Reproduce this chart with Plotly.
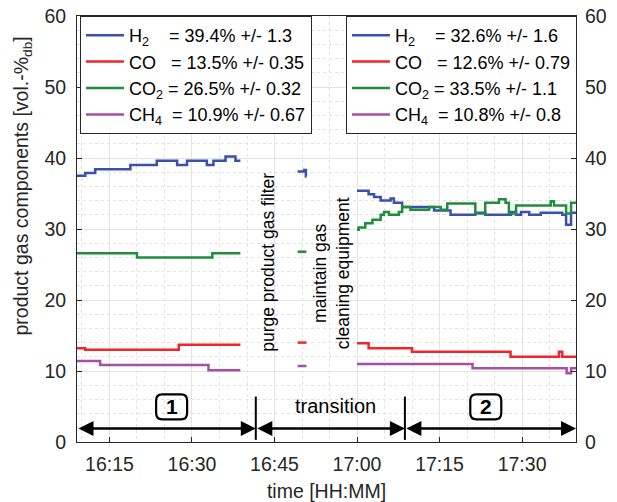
import plotly.graph_objects as go
import datetime as dt

BASE = dt.datetime(2020, 1, 1, 16, 0)

def T(m):
    return (BASE + dt.timedelta(minutes=m)).strftime("%Y-%m-%d %H:%M:%S")

# ---- data (minutes after 16:00, value in vol.-%) ----
h2_seg1_t = [9.1, 10.6, 12.4, 18.8, 23.6, 27.3, 29.1, 32.7, 33.9, 36.1, 37.9, 38.8]
h2_seg1_v = [37.5, 37.9, 38.4, 39.0, 39.6, 39.0, 39.6, 39.0, 39.6, 40.2, 39.6, 39.6]
co_seg1_t = [9.1, 10.6, 27.6, 38.8]
co_seg1_v = [13.2, 13.0, 13.7, 13.7]
co2_seg1_t = [9.1, 20.0, 33.7, 38.8]
co2_seg1_v = [26.6, 26.0, 26.6, 26.6]
ch4_seg1_t = [9.1, 13.3, 33.0, 38.8]
ch4_seg1_v = [11.4, 10.85, 10.1, 10.1]

h2_tr_t = [49.2, 50.4, 50.7, 50.8]
h2_tr_v = [38.1, 38.3, 37.4, 37.4]
co_tr_t = [49.2, 50.8]
co_tr_v = [14.0, 14.0]
co2_tr_t = [49.2, 50.8]
co2_tr_v = [26.8, 26.8]
ch4_tr_t = [49.2, 50.8]
ch4_tr_v = [10.7, 10.7]

h2_seg2_t = [60.0, 62.1, 63.1, 64.3, 66.1, 66.7, 68.2, 74.0, 77.0, 81.5, 83.3, 88.0, 88.9,
             89.8, 91.3, 93.4, 97.3, 98.0, 98.9, 99.8]
h2_seg2_v = [35.4, 34.9, 34.5, 34.0, 34.3, 33.7, 33.1, 32.6, 32.0, 32.3, 32.0, 32.4, 32.0,
             32.4, 32.0, 32.3, 32.0, 30.6, 32.3, 32.3]
co_seg2_t = [60.0, 62.1, 70.0, 87.9, 96.7, 97.3, 99.8]
co_seg2_v = [13.9, 13.2, 12.7, 12.0, 12.7, 12.0, 12.0]
co2_seg2_t = [60.0, 60.3, 61.5, 62.8, 64.3, 64.9, 65.8, 67.6, 68.2, 69.7, 73.1, 75.2, 76.4,
              81.5, 83.3, 85.8, 87.0, 87.6, 88.9, 95.2, 95.8, 98.0, 98.9, 99.8]
co2_seg2_v = [29.9, 30.2, 30.8, 31.3, 32.0, 32.4, 32.0, 32.4, 33.1, 32.7, 33.1, 32.7, 33.6,
              32.2, 33.7, 34.2, 33.7, 32.2, 33.3, 33.9, 33.3, 32.2, 33.7, 33.7]
ch4_seg2_t = [60.0, 81.0, 98.1, 98.9, 99.8]
ch4_seg2_v = [11.0, 10.4, 9.7, 10.4, 10.4]

legend1_labels = ["H<sub>2</sub>\u00a0\u00a0\u00a0 = 39.4% +/- 1.3",
                  "CO\u00a0\u00a0 = 13.5% +/- 0.35",
                  "CO<sub>2</sub> = 26.5% +/- 0.32",
                  "CH<sub>4</sub>\u00a0 = 10.9% +/- 0.67"]
legend2_labels = ["H<sub>2</sub>\u00a0\u00a0\u00a0 = 32.6% +/- 1.6",
                  "CO\u00a0\u00a0 = 12.6% +/- 0.79",
                  "CO<sub>2</sub> = 33.5% +/- 1.1",
                  "CH<sub>4</sub>\u00a0 = 10.8% +/- 0.8"]

phase_bounds = [9.1, 41.6, 68.7, 99.8]   # phase separators (minutes after 16:00)
phase_labels = ["1", "transition", "2"]

x_range = [9.1, 99.8]
y_ticks = [0, 10, 20, 30, 40, 50, 60]

colors = {"H2": "#3a4fae", "CO": "#f0242a", "CO2": "#1f8d3b", "CH4": "#a54fa8"}
TXT = "#262626"
FS_AX = 19.5
FS_LEG = 18

fig = go.Figure()

series = [
    ("H2", [(h2_seg1_t, h2_seg1_v), (h2_tr_t, h2_tr_v), (h2_seg2_t, h2_seg2_v)]),
    ("CO", [(co_seg1_t, co_seg1_v), (co_tr_t, co_tr_v), (co_seg2_t, co_seg2_v)]),
    ("CO2", [(co2_seg1_t, co2_seg1_v), (co2_tr_t, co2_tr_v), (co2_seg2_t, co2_seg2_v)]),
    ("CH4", [(ch4_seg1_t, ch4_seg1_v), (ch4_tr_t, ch4_tr_v), (ch4_seg2_t, ch4_seg2_v)]),
]

for i, (key, segs) in enumerate(series):
    for j, (ts, vs) in enumerate(segs):
        if j == 0:
            kw = dict(name=legend1_labels[i], legend="legend", showlegend=True)
        elif j == 2:
            kw = dict(name=legend2_labels[i], legend="legend2", showlegend=True)
        else:
            kw = dict(name=key, showlegend=False)
        fig.add_trace(go.Scatter(
            x=[T(t) for t in ts], y=vs, mode="lines",
            line=dict(color=colors[key], width=2.5, shape="hv"),
            hoverinfo="skip", **kw))

# right-hand axis labels
fig.add_trace(go.Scatter(x=[T(x_range[0])], y=[0], yaxis="y2", mode="lines",
                         showlegend=False, hoverinfo="skip", line=dict(width=0)))

# phase separators and arrows
arrow_y = 1.9
for b in phase_bounds[1:3]:
    fig.add_shape(type="line", x0=T(b), x1=T(b), y0=0.3, y1=6.4, xref="x", yref="y",
                  line=dict(color="black", width=2))
for k in range(3):
    fig.add_annotation(x=T(phase_bounds[k + 1]), y=arrow_y, ax=T(phase_bounds[k]), ay=arrow_y,
                       xref="x", yref="y", axref="x", ayref="y", text="",
                       showarrow=True, arrowhead=2, startarrowhead=2, arrowside="end+start",
                       arrowwidth=2.5, arrowsize=1.2, startarrowsize=1.2,
                       arrowcolor="black", standoff=0, startstandoff=0)

label_x = [26.3, 56.1, 83.4]
for k, lab in enumerate(phase_labels):
    if lab == "transition":
        fig.add_annotation(x=T(label_x[k]), y=5.1, text=lab, showarrow=False,
                           font=dict(size=20, color="black"))
    else:
        fig.add_annotation(x=T(label_x[k]), y=4.95, text="<b>%s</b>" % lab, showarrow=False,
                           font=dict(size=21, color="black"))
        w, h, r = 15.5, 12.5, 6
        path = (f"M{-w + r},{-h} L{w - r},{-h} Q{w},{-h} {w},{-h + r} L{w},{h - r} "
                f"Q{w},{h} {w - r},{h} L{-w + r},{h} Q{-w},{h} {-w},{h - r} "
                f"L{-w},{-h + r} Q{-w},{-h} {-w + r},{-h} Z")
        fig.add_shape(type="path", xref="x", yref="y", xsizemode="pixel", ysizemode="pixel",
                      xanchor=T(label_x[k]), yanchor=4.95, path=path,
                      line=dict(color="black", width=2.2))

fig.add_annotation(x=T(43.9), y=25.3, text="purge product gas filter", textangle=-90,
                   showarrow=False, font=dict(size=17.5, color="black"))
fig.add_annotation(x=T(55.3), y=23.8, text="maintain gas<br>cleaning equipment", textangle=-90,
                   showarrow=False, font=dict(size=17.5, color="black"))

# y-axis title (placed like the reference, slightly above the plot centre)
fig.add_annotation(xref="paper", yref="paper", x=-0.11, y=0.60, xanchor="center",
                   yanchor="middle", text="product gas components [vol.-%<sub>db</sub>]",
                   textangle=-90, showarrow=False, font=dict(size=19.5, color=TXT))

axis_common = dict(showline=True, linecolor=TXT, linewidth=1, ticks="inside", ticklen=5,
                   tickcolor=TXT, tickfont=dict(size=FS_AX, color=TXT), zeroline=False,
                   automargin=False)

fig.update_layout(
    width=617, height=502,
    margin=dict(l=77, r=41, t=16, b=60),
    paper_bgcolor="white", plot_bgcolor="white",
    font=dict(family="Liberation Sans, Arial", size=FS_AX, color=TXT),
    xaxis=dict(type="date", range=[T(x_range[0]), T(x_range[1])],
               tick0=T(0), dtick=15 * 60 * 1000, tickformat="%H:%M",
               showgrid=True, gridcolor="#e3e3e3", gridwidth=1, mirror="ticks",
               minor=dict(dtick=5 * 60 * 1000, showgrid=True, gridcolor="#e3e3e3",
                          griddash="dot", ticks=""),
               title=dict(text="time [HH:MM]", font=dict(size=FS_AX, color=TXT)),
               ticklabelstandoff=5, **axis_common),
    yaxis=dict(range=[0, 60], tickvals=y_ticks, showgrid=True, gridcolor="#e3e3e3",
               mirror="ticks", ticklabeloverflow="allow",
               minor=dict(dtick=2, showgrid=True, gridcolor="#e3e3e3", griddash="dot", ticks=""),
               ticklabelstandoff=6, **axis_common),
    yaxis2=dict(range=[0, 60], tickvals=y_ticks, overlaying="y", side="right",
                showgrid=False, showline=False, ticks="", zeroline=False, automargin=False,
                ticklabeloverflow="allow",
                tickfont=dict(size=FS_AX, color=TXT), ticklabelstandoff=8),
    legend=dict(x=0.006, y=1, xanchor="left", yanchor="top", bgcolor="white",
                bordercolor=TXT, borderwidth=1, font=dict(size=FS_LEG, color="black"),
                tracegroupgap=0, itemwidth=38),
    legend2=dict(x=0.539, y=1, xanchor="left", yanchor="top", bgcolor="white",
                 bordercolor=TXT, borderwidth=1, font=dict(size=FS_LEG, color="black"),
                 tracegroupgap=0, itemwidth=38),
    showlegend=True,
)

# remove the browser's default 8px page margin so the figure fills the window exactly
fig.write_html("out.html", config={"displayModeBar": False},
               post_script="document.body.style.margin='0px';document.body.style.overflow='hidden';")
